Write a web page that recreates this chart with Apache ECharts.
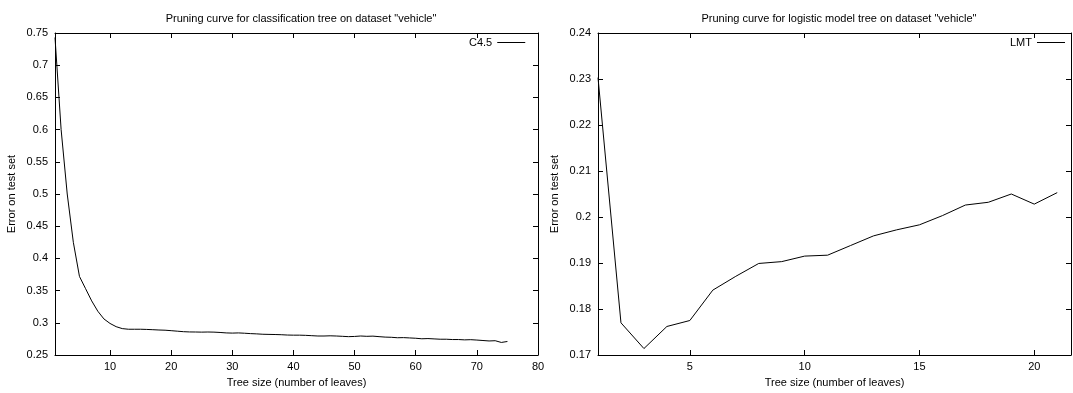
<!DOCTYPE html>
<html><head><meta charset="utf-8">
<script src="https://cdn.jsdelivr.net/npm/echarts@6/dist/echarts.min.js"></script>
<style>html,body{margin:0;padding:0;background:#fff}#c{width:1073px;height:393px}</style>
</head><body><div id="c"></div>
<script>
const titleLeft = 'Pruning curve for classification tree on dataset "vehicle"';
const titleRight = 'Pruning curve for logistic model tree on dataset "vehicle"';
const xName = 'Tree size (number of leaves)';
const yName = 'Error on test set';
const leftName = 'C4.5';
const rightName = 'LMT';

const leftX = [];
for (let i = 1; i <= 75; i++) leftX.push(i);
const leftY = [0.743,0.600,0.500,0.425,0.372,0.353,0.334,0.318,0.306,0.299,
  0.294,0.291,0.290,0.290,0.290,0.2897,0.2893,0.2888,0.2885,0.2878,
  0.2870,0.2862,0.2858,0.2857,0.2855,0.2857,0.2855,0.2850,0.2843,0.2840,
  0.2843,0.2838,0.2832,0.2828,0.2822,0.2820,0.2818,0.2815,0.2810,0.2808,
  0.2808,0.2805,0.2800,0.2795,0.2795,0.2798,0.2795,0.2790,0.2785,0.2788,
  0.2795,0.2790,0.2793,0.2785,0.2778,0.2775,0.2768,0.2770,0.2765,0.2760,
  0.2752,0.2755,0.2750,0.2745,0.2745,0.2740,0.2740,0.2735,0.2738,0.2732,
  0.2725,0.2718,0.2722,0.2695,0.2710];

const rightX = [1,2,3,4,5,6,7,8,9,10,11,12,13,14,15,16,17,18,19,20,21];
const rightY = [0.2303,0.1770,0.1714,0.1762,0.1775,0.1841,0.1871,0.1899,0.1903,0.1915,
  0.1917,0.1938,0.1959,0.1972,0.1983,0.2003,0.2026,0.2032,0.2050,0.2028,0.2053];

const leftXTicks = [10,20,30,40,50,60,70,80];
const rightXTicks = [5,10,15,20];

const FONT = "'Liberation Sans', Arial, sans-serif";
const chart = echarts.init(document.getElementById('c'), null, {renderer: 'canvas'});

function xAxes(gi, min, max, ticks) {
  const base = {
    type: 'value', gridIndex: gi, min: min, max: max,
    splitLine: {show: false},
    axisLine: {show: true, lineStyle: {color: '#000', width: 1}},
    axisTick: {show: true, inside: true, length: 5, customValues: ticks, lineStyle: {color: '#000'}},
  };
  return [
    Object.assign({}, base, {
      position: 'bottom',
      name: xName, nameLocation: 'middle', nameGap: 22,
      nameTextStyle: {fontFamily: FONT, fontSize: 11, color: '#000'},
      axisLabel: {show: true, customValues: ticks, fontFamily: FONT, fontSize: 11, color: '#000', margin: 6,
        showMaxLabel: true, showMinLabel: true}
    }),
    Object.assign({}, base, {position: 'top', axisLabel: {show: false}})
  ];
}
function yAxes(gi, min, max, interval) {
  const base = {
    type: 'value', gridIndex: gi, min: min, max: max, interval: interval,
    splitLine: {show: false},
    axisLine: {show: true, lineStyle: {color: '#000', width: 1}},
    axisTick: {show: true, inside: true, length: 5, lineStyle: {color: '#000'}},
  };
  return [
    Object.assign({}, base, {
      position: 'left',
      name: yName, nameLocation: 'middle', nameGap: 38, nameRotate: 90,
      nameTextStyle: {fontFamily: FONT, fontSize: 11, color: '#000'},
      axisLabel: {show: true, fontFamily: FONT, fontSize: 11, color: '#000', margin: 7}
    }),
    Object.assign({}, base, {position: 'right', axisLabel: {show: false}})
  ];
}

const xa = xAxes(0, 1, 80, leftXTicks).concat(xAxes(1, 1, 21.6, rightXTicks));
const ya = yAxes(0, 0.25, 0.75, 0.05).concat(yAxes(1, 0.17, 0.24, 0.01));

const legendBase = {
  top: 37, itemWidth: 28, itemHeight: 1, itemGap: 6, icon: 'rect',
  align: 'right', padding: 0, selectedMode: false,
  itemStyle: {color: '#000', borderWidth: 0},
  textStyle: {fontFamily: FONT, fontSize: 11, color: '#000', padding: [0, 0, 0, 0]}
};

chart.setOption({
  animation: false,
  backgroundColor: '#fff',
  title: [
    {text: titleLeft, left: 296, top: 8, textAlign: 'center',
      textStyle: {fontFamily: FONT, fontSize: 11, fontWeight: 'normal', color: '#000'}},
    {text: titleRight, left: 834, top: 8, textAlign: 'center',
      textStyle: {fontFamily: FONT, fontSize: 11, fontWeight: 'normal', color: '#000'}}
  ],
  legend: [
    Object.assign({}, legendBase, {data: [leftName], left: 469}),
    Object.assign({}, legendBase, {data: [rightName], left: 1010})
  ],
  grid: [
    {left: 55, right: 1073 - 538, top: 33, bottom: 37, show: false},
    {left: 598, right: 2, top: 33, bottom: 37, show: false}
  ],
  xAxis: xa,
  yAxis: ya,
  series: [
    {name: leftName, type: 'line', xAxisIndex: 0, yAxisIndex: 0, showSymbol: false, symbol: 'none',
      data: leftX.map((x, i) => [x, leftY[i]]),
      lineStyle: {color: '#000', width: 1}, itemStyle: {color: '#000'}},
    {name: rightName, type: 'line', xAxisIndex: 2, yAxisIndex: 2, showSymbol: false, symbol: 'none',
      data: rightX.map((x, i) => [x, rightY[i]]),
      lineStyle: {color: '#000', width: 1}, itemStyle: {color: '#000'}}
  ]
});
</script>
</body></html>
